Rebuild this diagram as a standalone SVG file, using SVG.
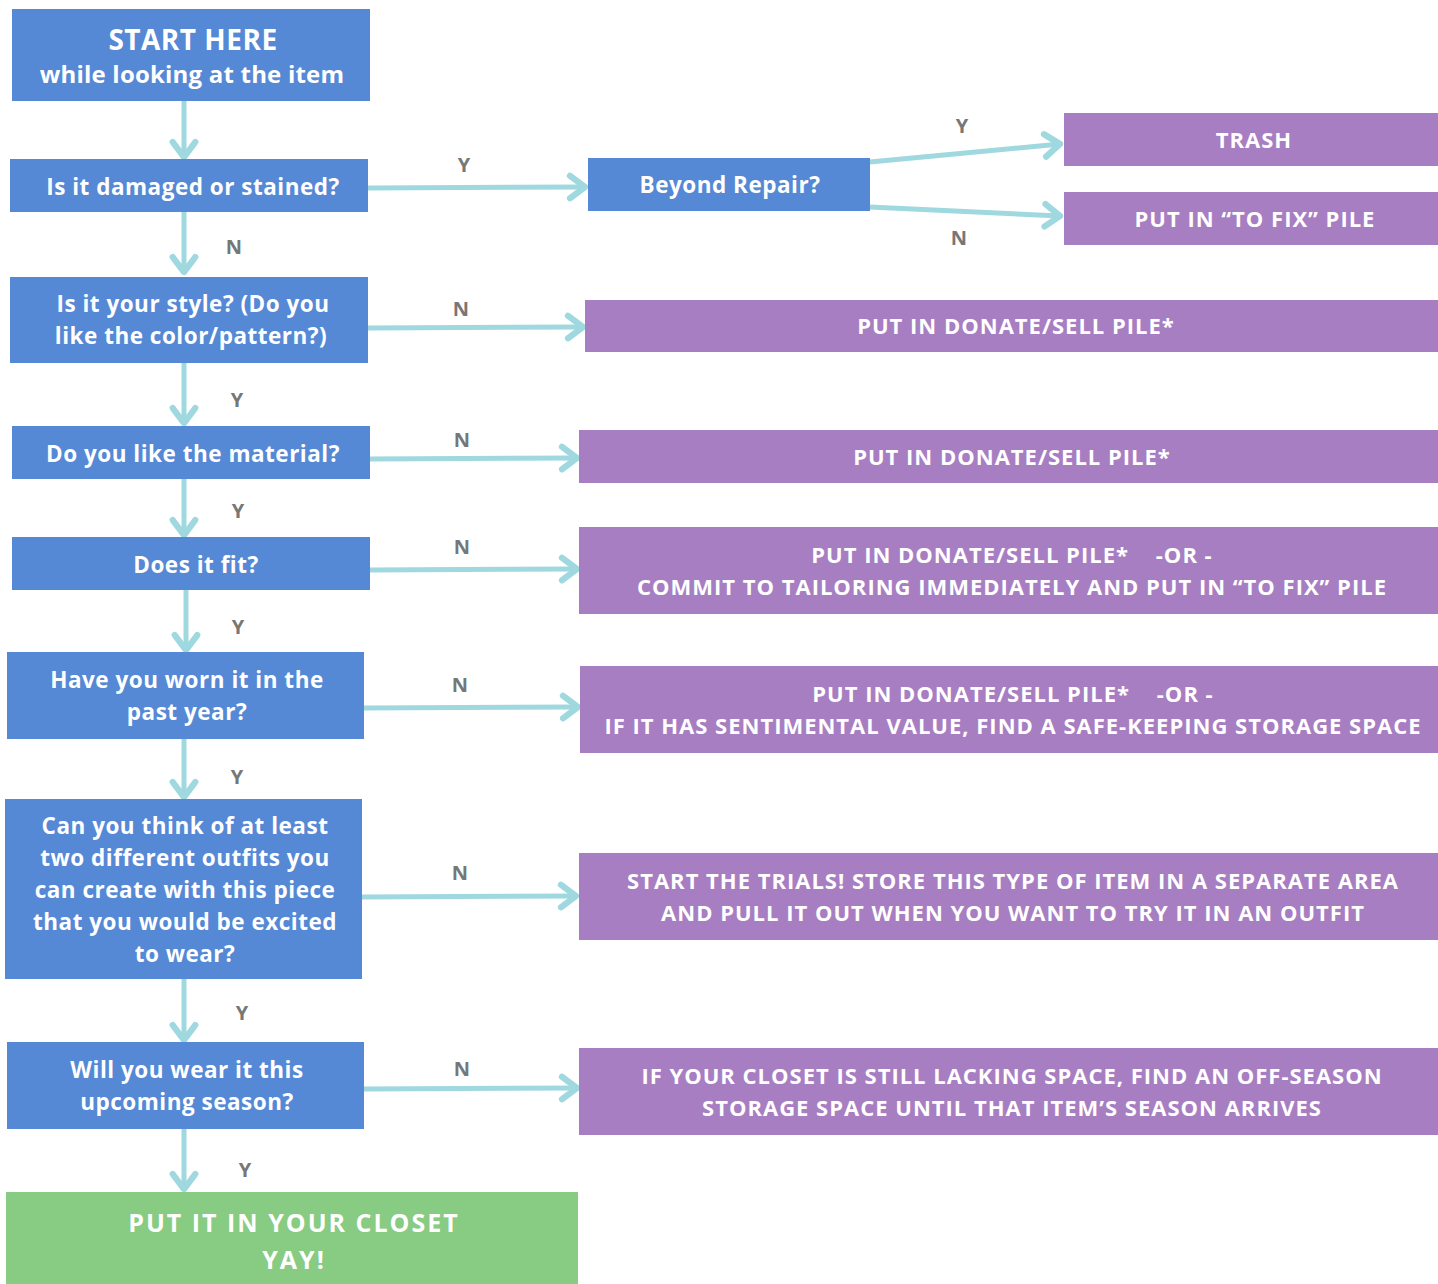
<svg xmlns="http://www.w3.org/2000/svg" width="1438" height="1284" viewBox="0 0 1438 1284">
<defs>
<marker id="arr" markerUnits="userSpaceOnUse" markerWidth="30" markerHeight="30" viewBox="-16 -12 20 24" refX="0" refY="0" orient="auto">
<path d="M-12,-9 L0,0 L-12,9" fill="none" stroke="#9fd8df" stroke-width="5" stroke-linecap="round" stroke-linejoin="round"/>
</marker>
<style>
.q{fill:#5588d5}
.p{fill:#a87ec2}
.g{fill:#88cb82}
text{font-family:"Open Sans","Liberation Sans",sans-serif;font-weight:700;fill:#fff;text-anchor:middle}
.t{font-size:22.5px;letter-spacing:0.5px}
.s{font-size:22px;letter-spacing:1px}
.big{font-size:25px;letter-spacing:2px}
.lbl{fill:#777;font-size:20px}
.c line{stroke:#9fd8df;stroke-width:5;marker-end:url(#arr)}
</style>
</defs>
<g class="c" id="connectors">
<line x1="184" y1="101" x2="184" y2="157"/>
<line x1="368" y1="188" x2="585" y2="187"/>
<line x1="870" y1="162" x2="1060" y2="144"/>
<line x1="870" y1="207" x2="1060" y2="216"/>
<line x1="184" y1="212" x2="184" y2="272"/>
<line x1="368" y1="328" x2="583" y2="327"/>
<line x1="184" y1="363" x2="184" y2="423"/>
<line x1="370" y1="459" x2="577" y2="458"/>
<line x1="184" y1="479" x2="184" y2="535"/>
<line x1="370" y1="570" x2="577" y2="569"/>
<line x1="186" y1="590" x2="186" y2="650"/>
<line x1="364" y1="708" x2="578" y2="707"/>
<line x1="184" y1="739" x2="184" y2="797"/>
<line x1="362" y1="897" x2="576" y2="896"/>
<line x1="184" y1="979" x2="184" y2="1040"/>
<line x1="364" y1="1089" x2="577" y2="1088"/>
<line x1="184" y1="1129" x2="184" y2="1189"/>
<text class="lbl" x="464" y="172">Y</text>
<text class="lbl" x="962" y="133">Y</text>
<text class="lbl" x="959" y="245">N</text>
<text class="lbl" x="234" y="254">N</text>
<text class="lbl" x="461" y="316">N</text>
<text class="lbl" x="237" y="407">Y</text>
<text class="lbl" x="462" y="447">N</text>
<text class="lbl" x="238" y="518">Y</text>
<text class="lbl" x="462" y="554">N</text>
<text class="lbl" x="238" y="634">Y</text>
<text class="lbl" x="460" y="692">N</text>
<text class="lbl" x="237" y="784">Y</text>
<text class="lbl" x="460" y="880">N</text>
<text class="lbl" x="242" y="1020">Y</text>
<text class="lbl" x="462" y="1076">N</text>
<text class="lbl" x="245" y="1177">Y</text>
</g>
<g id="start"><rect class="q" x="12" y="9" width="358" height="92"/>
<text x="193" y="50" style="font-size:28px;letter-spacing:0.5px">START HERE</text>
<text x="192" y="83" style="font-size:24px;letter-spacing:0.2px">while looking at the item</text></g>
<g id="damaged"><rect class="q" x="10" y="159" width="358" height="53"/>
<text class="t" x="193" y="195">Is it damaged or stained?</text></g>
<g id="beyond"><rect class="q" x="588" y="158" width="282" height="53"/>
<text class="t" x="730" y="193">Beyond Repair?</text></g>
<g id="trash"><rect class="p" x="1064" y="113" width="374" height="53"/>
<text class="s" x="1254" y="148">TRASH</text></g>
<g id="tofix"><rect class="p" x="1064" y="192" width="374" height="53"/>
<text class="s" x="1255" y="227">PUT IN “TO FIX” PILE</text></g>
<g id="style"><rect class="q" x="10" y="277" width="358" height="86"/>
<text class="t" x="193" y="312">Is it your style? (Do you</text>
<text class="t" x="191" y="344">like the color/pattern?)</text></g>
<g id="donate1"><rect class="p" x="585" y="300" width="853" height="52"/>
<text class="s" x="1016" y="334">PUT IN DONATE/SELL PILE*</text></g>
<g id="material"><rect class="q" x="12" y="426" width="358" height="53"/>
<text class="t" x="193" y="462">Do you like the material?</text></g>
<g id="donate2"><rect class="p" x="579" y="430" width="859" height="53"/>
<text class="s" x="1012" y="465">PUT IN DONATE/SELL PILE*</text></g>
<g id="fit"><rect class="q" x="12" y="537" width="358" height="53"/>
<text class="t" x="196" y="573">Does it fit?</text></g>
<g id="tailor"><rect class="p" x="579" y="527" width="859" height="87"/>
<text class="s" x="1012" y="563" xml:space="preserve">PUT IN DONATE/SELL PILE*    -OR -</text>
<text class="s" x="1012" y="595">COMMIT TO TAILORING IMMEDIATELY AND PUT IN “TO FIX” PILE</text></g>
<g id="worn"><rect class="q" x="7" y="652" width="357" height="87"/>
<text class="t" x="187" y="688">Have you worn it in the</text>
<text class="t" x="187" y="720">past year?</text></g>
<g id="sentimental"><rect class="p" x="580" y="666" width="858" height="87"/>
<text class="s" x="1013" y="702" xml:space="preserve">PUT IN DONATE/SELL PILE*    -OR -</text>
<text class="s" x="1013" y="734">IF IT HAS SENTIMENTAL VALUE, FIND A SAFE-KEEPING STORAGE SPACE</text></g>
<g id="outfits"><rect class="q" x="5" y="799" width="357" height="180"/>
<text class="t" x="185" y="834">Can you think of at least</text>
<text class="t" x="185" y="866">two different outfits you</text>
<text class="t" x="185" y="898">can create with this piece</text>
<text class="t" x="185" y="930">that you would be excited</text>
<text class="t" x="185" y="962">to wear?</text></g>
<g id="trials"><rect class="p" x="579" y="853" width="859" height="87"/>
<text class="s" x="1013" y="889">START THE TRIALS! STORE THIS TYPE OF ITEM IN A SEPARATE AREA</text>
<text class="s" x="1013" y="921">AND PULL IT OUT WHEN YOU WANT TO TRY IT IN AN OUTFIT</text></g>
<g id="season"><rect class="q" x="7" y="1042" width="357" height="87"/>
<text class="t" x="187" y="1078">Will you wear it this</text>
<text class="t" x="187" y="1110">upcoming season?</text></g>
<g id="offseason"><rect class="p" x="579" y="1048" width="859" height="87"/>
<text class="s" x="1012" y="1084">IF YOUR CLOSET IS STILL LACKING SPACE, FIND AN OFF-SEASON</text>
<text class="s" x="1012" y="1116">STORAGE SPACE UNTIL THAT ITEM’S SEASON ARRIVES</text></g>
<g id="closet"><rect class="g" x="6" y="1192" width="572" height="92"/>
<text class="big" x="294" y="1232">PUT IT IN YOUR CLOSET</text>
<text class="big" x="294" y="1269">YAY!</text></g>
</svg>
